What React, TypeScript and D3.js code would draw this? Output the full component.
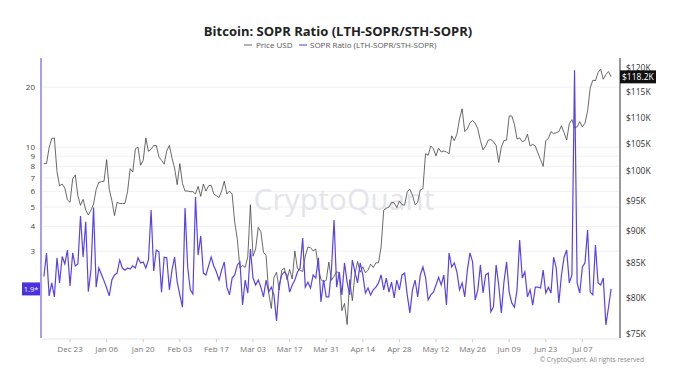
import React from 'react';
import * as d3 from 'd3';

// ---- data ----
const startDate = Date.UTC(2024, 11, 13); // Dec 13 2024, daily
const priceUsd: number[] = [
  101400, 101400, 104300, 106000, 106100, 100000, 97500, 97800, 97100, 95100,
  94700, 98700, 99400, 95800, 94200, 95200, 93400, 92600, 93400,
  94400, 96900, 98100, 98200, 98300, 102100, 96900, 95000, 92500, 94700,
  94500, 94500, 94500, 96500, 100500, 99900, 104100, 104400, 101100, 102000,
  106100, 103600, 104000, 104700, 104700, 102600, 102000, 101300, 103700, 104700, 102400,
  100600, 97700, 101400, 97900, 96600, 96600, 96500, 96500, 96100, 97400,
  95700, 97800, 96600, 97500, 97600, 96100, 95800, 95500, 96600, 98300,
  96100, 96600, 96100, 91400, 88700, 84300, 84700, 84400,
  86000, 94300, 86100, 87200, 90600, 89900, 86700, 86200, 80700, 78500,
  82900, 83700, 81100, 84000, 84300, 82600, 84100, 82700, 86900, 84200,
  84000, 83800, 86100, 87500, 87400, 86900, 87200, 84400, 82600, 82300, 82500,
  85200, 82500, 83100, 83800, 83500, 78200, 79200, 76300, 82600, 79600,
  83400, 85300, 83700, 84500, 83600, 84000, 84900, 84400, 85100, 85100,
  87500, 93400, 93700, 93900, 94700, 94600, 93800, 94900, 94300, 94200,
  96500, 96900, 95900, 94300, 94700, 96800, 97000, 103200, 102900, 104600,
  104100, 102800, 104200, 103500, 103700, 103500, 103200, 106500, 105600, 106800,
  109700, 111700, 107300, 107800, 109000, 109400, 108900, 107800, 105600, 103900, 104600,
  105700, 105800, 105400, 104700, 101600, 104400, 105600, 105700, 110300, 110300,
  108700, 105900, 106100, 105400, 105600, 106800, 104600, 104900, 104600, 103300,
  102100, 100900, 105600, 106000, 107300, 106900, 107100, 107300, 108400, 107100,
  105700, 108800, 109600, 108000, 108200, 109200, 108200, 108900, 111300, 115900,
  117500, 117400, 119100, 119800, 117700, 118700, 119300, 118200,
];
const soprRatio: number[] = [
  2.24, 2.94, 1.79, 2.08, 1.77, 2.78, 2.08, 2.82, 2.59, 3.04,
  2.01, 2.94, 2.53, 2.59, 4.51, 2.80, 4.22, 1.88, 2.41, 4.97,
  1.98, 2.47, 2.30, 2.13, 1.96, 1.79, 2.15, 2.28, 2.33, 2.71,
  2.47, 2.41, 2.47, 2.44, 2.53, 2.47, 2.78, 2.62, 2.65, 2.47,
  2.71, 4.83, 2.39, 3.04, 2.98, 1.87, 2.80, 2.78, 1.92, 2.41,
  2.80, 2.10, 1.81, 1.57, 4.94, 2.50, 1.92, 1.83, 5.62, 2.87,
  3.58, 2.33, 2.28, 2.53, 2.80, 2.53, 2.36, 2.15, 2.41, 2.65,
  1.98, 1.81, 2.20, 2.28, 2.56, 2.65, 1.61, 2.15, 1.85, 3.08,
  2.20, 2.03, 2.15, 1.98, 1.77, 2.15, 1.87, 1.98, 1.81, 1.34,
  2.03, 2.28, 2.36, 2.28, 1.87, 2.03, 2.15, 2.36, 2.47, 3.49,
  1.98, 2.10, 1.96, 2.28, 2.20, 2.78, 1.67, 2.15, 1.77, 1.77,
  2.41, 4.30, 1.98, 2.36, 1.81, 2.62, 2.10, 1.81, 2.71, 2.36,
  2.08, 2.62, 2.28, 1.85, 1.96, 1.81, 1.92, 1.98, 2.08, 2.28,
  1.92, 2.20, 1.87, 2.10, 1.75, 2.15, 1.92, 2.28, 2.33, 1.81,
  1.47, 1.92, 2.15, 1.77, 2.28, 2.50, 2.22, 1.71, 1.81, 1.87,
  2.03, 2.22, 2.03, 2.28, 1.61, 2.94, 2.50, 2.62, 2.36, 1.92,
  2.08, 1.77, 2.41, 2.94, 2.65, 1.71, 1.92, 2.56, 1.85, 2.28,
  2.33, 1.49, 1.58, 2.56, 2.03, 1.47, 2.10, 2.65, 1.87, 1.65,
  1.57, 1.92, 3.41, 2.20, 2.36, 1.77, 1.92, 1.61, 1.98, 1.98,
  1.96, 2.41, 1.85, 1.98, 1.85, 2.80, 2.47, 1.65, 2.28, 2.80,
  3.04, 2.08, 2.28, 24.3, 2.08, 1.85, 2.50, 2.62, 3.83, 1.87,
  1.81, 3.22, 2.08, 2.03, 2.20, 1.28, 1.57, 1.94,
];
const leftTicks = [3, 4, 5, 6, 7, 8, 9, 10, 20];
const rightTicks = [75000, 80000, 85000, 90000, 95000, 100000, 105000, 110000, 115000, 120000];
const firstTickDate = Date.UTC(2024, 11, 23);
const xTickCount = 15;
const titleText = 'Bitcoin: SOPR Ratio (LTH-SOPR/STH-SOPR)';
const priceLabel = 'Price USD';
const soprLabel = 'SOPR Ratio (LTH-SOPR/STH-SOPR)';
const lastSoprLabel = '1.9*';

const W = 675;
const H = 384;
const L = 42, R = 619, T = 58, B = 338;
const FONT = "'Open Sans', 'Noto Sans', sans-serif";
const PURPLE = '#5a43e6';

export default function App() {
  const day = 86400000;
  const dates = priceUsd.map((_, i) => new Date(startDate + i * day));
  const x = d3.scaleUtc()
    .domain([new Date(Date.UTC(2024, 11, 12, 6, 30)), new Date(Date.UTC(2025, 6, 21, 0, 20))])
    .range([L, R]);
  const yL = d3.scaleLog().domain([1.1, 28]).range([B, T]);
  const yR = d3.scaleLog().domain([74510, 122200]).range([B, T]);

  const priceLine = d3.line<number>()
    .x((_, i) => x(dates[i]))
    .y((d) => yR(d))(priceUsd) || '';
  const soprLine = d3.line<number>()
    .x((_, i) => x(dates[i]))
    .y((d) => yL(d))(soprRatio) || '';

  const xTicks = d3.range(xTickCount).map((i) => new Date(firstTickDate + i * 14 * day));
  const fmt = d3.utcFormat('%b %d');
  const lastPrice = priceUsd[priceUsd.length - 1];
  const lastSopr = soprRatio[soprRatio.length - 1];
  const lastPriceY = yR(lastPrice);
  const lastSoprY = yL(lastSopr);

  return (
    <>
      <style>{'body{margin:0;}'}</style>
      <svg width={W} height={H} style={{ display: 'block', background: '#fff' }} fontFamily={FONT}>
        <defs>
          <clipPath id="plot">
            <rect x={L} y={T - 2} width={R - L} height={B - T + 4} />
          </clipPath>
        </defs>
        <text x={338} y={36} textAnchor="middle" fontSize={13} fontWeight={700} fill="#222">{titleText}</text>
        {/* legend */}
        <g fontSize={8} fill="#555">
          <line x1={244} x2={252} y1={45} y2={45} stroke="#999" strokeWidth={1.5} />
          <text x={256} y={48}>{priceLabel}</text>
          <line x1={299} x2={307} y1={45} y2={45} stroke="#8a7cf0" strokeWidth={1.5} />
          <text x={310} y={48}>{soprLabel}</text>
        </g>
        {/* grid */}
        {leftTicks.map((t) => (
          <line key={t} x1={L} x2={R} y1={yL(t)} y2={yL(t)} stroke="#f0f0f0" strokeWidth={1} />
        ))}
        {/* watermark */}
        <text x={344} y={210} textAnchor="middle" fontSize={30} fill="#e4e4eb" fontWeight={500}>CryptoQuant</text>
        {/* x axis */}
        <line x1={L} x2={R} y1={B + 1} y2={B + 1} stroke="#e6e6e6" />
        {xTicks.map((d) => (
          <g key={+d}>
            <line x1={x(d)} x2={x(d)} y1={B + 1} y2={B + 4} stroke="#ccc" />
            <text x={x(d)} y={352} textAnchor="middle" fontSize={8} fill="#777">{fmt(d)}</text>
          </g>
        ))}
        {/* lines */}
        <g clipPath="url(#plot)">
          <path d={priceLine} fill="none" stroke="#444" strokeWidth={0.8} />
          <path d={soprLine} fill="none" stroke={PURPLE} strokeWidth={1.2} />
        </g>
        {/* left axis */}
        <line x1={41} x2={41} y1={T} y2={B} stroke="#a99df2" strokeWidth={2} />
        {leftTicks.map((t) => (
          <text key={t} x={35} y={yL(t) + 3} textAnchor="end" fontSize={8} fill="#444">{t}</text>
        ))}
        <rect x={22} y={lastSoprY - 6.5} width={18} height={13} fill="#4b30e0" />
        <text x={31} y={lastSoprY + 3} textAnchor="middle" fontSize={7.5} fill="#fff">{lastSoprLabel}</text>
        {/* right axis */}
        <line x1={620} x2={620} y1={T} y2={B} stroke="#333" strokeWidth={1} />
        {rightTicks.map((t) => (
          <text key={t} x={626} y={yR(t) + 3} fontSize={8.5} fill="#333">{`$${t / 1000}K`}</text>
        ))}
        <rect x={620} y={lastPriceY - 6.5} width={36} height={13} fill="#111" />
        <text x={622} y={lastPriceY + 3} fontSize={8.5} fill="#fff">{`$${(lastPrice / 1000).toFixed(1)}K`}</text>
        {/* copyright */}
        <text x={644} y={362} textAnchor="end" fontSize={6.5} fill="#888">© CryptoQuant. All rights reserved</text>
      </svg>
    </>
  );
}
